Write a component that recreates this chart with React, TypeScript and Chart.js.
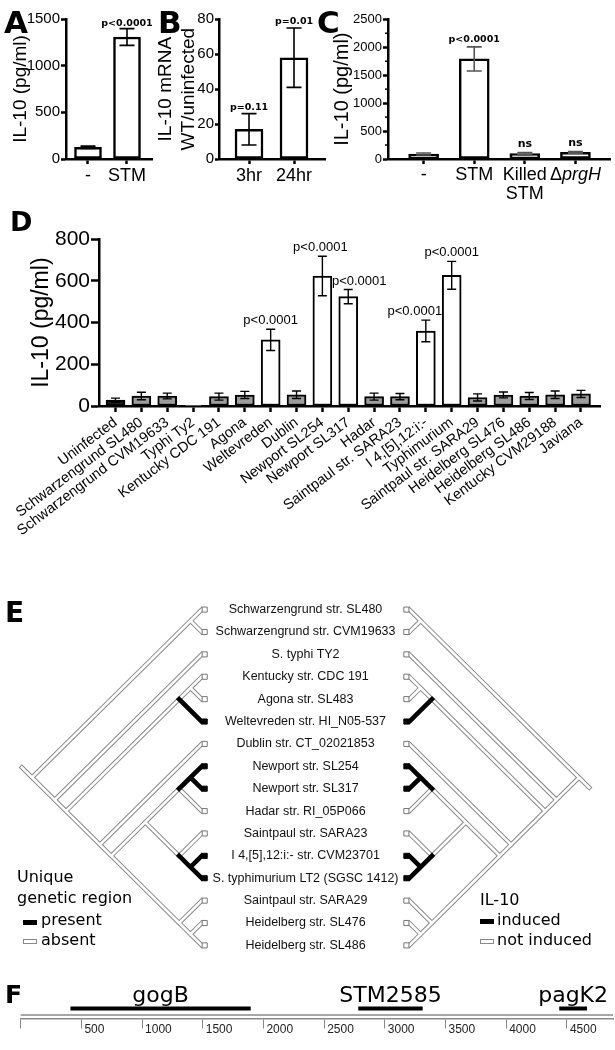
import React, { useEffect, useRef } from 'react';
import { Chart, registerables } from 'chart.js';

Chart.register(...registerables);

const ARIAL = '"Liberation Sans", Arial, Helvetica, sans-serif';
const VERDANA = '"DejaVu Sans", Verdana, sans-serif';

// ---------------- Panel A ----------------
const A_CATEGORIES = ['-', 'STM'];
const A_VALUES = [125, 1307];
const A_ERRORS = [13, 90];
const A_Y_TICKS = [0, 500, 1000, 1500];
const A_NOTES = ['', 'p<0.0001'];

// ---------------- Panel B ----------------
const B_CATEGORIES = ['3hr', '24hr'];
const B_VALUES = [17, 58];
const B_ERRORS = [9, 17];
const B_Y_TICKS = [0, 20, 40, 60, 80];
const B_NOTES = ['p=0.11', 'p=0.01'];

// ---------------- Panel C ----------------
const C_CATEGORIES = ['-', 'STM', 'Killed\nSTM', 'ΔprgH'];
const C_VALUES = [89, 1791, 95, 120];
const C_ERRORS = [18, 215, 22, 15];
const C_Y_TICKS = [0, 500, 1000, 1500, 2000, 2500];
const C_Y_MINOR_TICKS = [250, 750, 1250, 1750, 2250];
const C_NOTES = ['', 'p<0.0001', 'ns', 'ns'];

// ---------------- Panel D ----------------
const D_CATEGORIES = [
  'Uninfected', 'Schwarzengrund SL480', 'Schwarzengrund CVM19633', 'Typhi Ty2',
  'Kentucky CDC 191', 'Agona', 'Weltevreden', 'Dublin', 'Newport SL254',
  'Newport SL317', 'Hadar', 'Saintpaul str. SARA23', 'I 4,[5],12:i:-',
  'Typhimurium', 'Saintpaul str. SARA29', 'Heidelberg SL476', 'Heidelberg SL486',
  'Kentucky CVM29188', 'Javiana',
];
const D_VALUES = [28, 48, 48, 3, 45, 53, 317, 54, 624, 525, 45, 45, 360, 627, 41, 53, 48, 54, 58];
const D_ERRORS = [10, 18, 14, 0, 17, 17, 51, 18, 95, 34, 17, 15, 52, 67, 17, 14, 17, 18, 17];
const D_Y_TICKS = [0, 200, 400, 600, 800];
const D_NOTES = ['', '', '', '', '', '', 'p<0.0001', '', 'p<0.0001', 'p<0.0001', '', '', 'p<0.0001', 'p<0.0001', '', '', '', '', ''];

// ---------------- Panel E ----------------
const E_STRAINS = [
  'Schwarzengrund str. SL480', 'Schwarzengrund str. CVM19633', 'S. typhi TY2',
  'Kentucky str. CDC 191', 'Agona str. SL483', 'Weltevreden str. HI_N05-537',
  'Dublin str. CT_02021853', 'Newport str. SL254', 'Newport str. SL317',
  'Hadar str. RI_05P066', 'Saintpaul str. SARA23', 'I 4,[5],12:i:- str. CVM23701',
  'S. typhimurium LT2 (SGSC 1412)', 'Saintpaul str. SARA29', 'Heidelberg str. SL476',
  'Heidelberg str. SL486',
];
const E_TREE: any = [[0, 1], [2, [[[3, 4], 5], [6, [[[[7, 8], 9], [10, [11, 12]]], [13, [14, 15]]]]]]];
const E_GENETIC_REGION_PRESENT = [5, 7, 8, 11, 12];
const E_IL10_INDUCED = [5, 7, 8, 11, 12];

// ---------------- Panel F ----------------
const F_GENES = ['gogB', 'STM2585', 'pagK2'];
const F_GENE_START = [410, 2781, 4437];
const F_GENE_END = [1895, 3312, 4666];
const F_TICKS = [0, 500, 1000, 1500, 2000, 2500, 3000, 3500, 4000, 4500];
const F_MAX = 4880;

// ---------------- helpers ----------------
type Box = { left: number; top: number; width: number; height: number };
type TextItem = { text: string; x: number; y: number; font: string; align?: CanvasTextAlign; baseline?: CanvasTextBaseline; color?: string };

function textPlugin(items: TextItem[]) {
  return {
    id: 'staticText',
    afterDraw(chart: any) {
      const ctx = chart.ctx;
      ctx.save();
      items.forEach((t) => {
        ctx.font = t.font;
        ctx.fillStyle = t.color || '#000';
        ctx.textAlign = t.align || 'left';
        ctx.textBaseline = t.baseline || 'alphabetic';
        ctx.fillText(t.text, t.x, t.y);
      });
      ctx.restore();
    },
  };
}

function errorBarsPlugin(values: number[], errors: number[], color: string, width: number, cap: number) {
  return {
    id: 'errorBars',
    afterDatasetsDraw(chart: any) {
      const { ctx, scales } = chart;
      ctx.save();
      ctx.strokeStyle = color;
      ctx.lineWidth = width;
      values.forEach((v, i) => {
        const e = errors[i];
        if (!e) return;
        const px = scales.x.getPixelForValue(i);
        const top = scales.y.getPixelForValue(v + e);
        const bot = scales.y.getPixelForValue(Math.max(0, v - e));
        ctx.beginPath();
        ctx.moveTo(px, top); ctx.lineTo(px, bot);
        ctx.moveTo(px - cap / 2, top); ctx.lineTo(px + cap / 2, top);
        ctx.moveTo(px - cap / 2, bot); ctx.lineTo(px + cap / 2, bot);
        ctx.stroke();
      });
      ctx.restore();
    },
  };
}

function notesPlugin(values: number[], errors: number[], notes: string[], font: (t: string) => string, gap: number, shift: Record<number, number> = {}) {
  return {
    id: 'barNotes',
    afterDatasetsDraw(chart: any) {
      const { ctx, scales } = chart;
      ctx.save();
      ctx.fillStyle = '#000';
      ctx.textAlign = 'center';
      ctx.textBaseline = 'alphabetic';
      notes.forEach((t, i) => {
        if (!t) return;
        ctx.font = font(t);
        const px = scales.x.getPixelForValue(i) + (shift[i] || 0);
        const py = scales.y.getPixelForValue(values[i] + (errors[i] || 0)) - gap;
        ctx.fillText(t, px, py);
      });
      ctx.restore();
    },
  };
}

interface BarSpec {
  categories: string[]; values: number[]; errors: number[]; notes: string[]; colors: string[];
  yTicks: number[]; yMax: number; xMin: number; xMax: number;
  barThickness: number; barBorder: number; yWidth: number; xHeight: number;
  padding: { top: number; right: number };
  yTickFont: number; yTickLength: number;
  yTitle: string | string[]; yTitleFont: number; yTitlePad: number;
  xFont: number; xLineHeight: number; xPadding: number; xTickLength: number; rotation: number;
  errColor: string; errWidth: number; errCap: number;
  noteFont: (t: string) => string; noteGap: number; noteShift?: Record<number, number>;
  axisWidth: number; texts: TextItem[]; extra?: any[];
  labelFormatter?: (s: string) => any;
}

function barConfig(s: BarSpec): any {
  return {
    type: 'bar',
    data: {
      datasets: [{
        data: s.values.map((v, i) => ({ x: i, y: v })),
        backgroundColor: s.colors,
        borderColor: '#000',
        borderWidth: s.barBorder,
        borderSkipped: false,
        barThickness: s.barThickness,
      }],
    },
    options: {
      responsive: false,
      animation: false,
      events: [],
      layout: { padding: { left: 0, bottom: 0, top: s.padding.top, right: s.padding.right } },
      plugins: { legend: { display: false }, tooltip: { enabled: false } },
      scales: {
        x: {
          type: 'linear', min: s.xMin, max: s.xMax, offset: false,
          afterBuildTicks: (sc: any) => { sc.ticks = s.categories.map((_, i) => ({ value: i })); },
          afterFit: (sc: any) => { sc.height = s.xHeight; },
          ticks: {
            autoSkip: false, maxRotation: s.rotation, minRotation: s.rotation, padding: s.xPadding,
            color: '#000', font: { family: ARIAL, size: s.xFont, lineHeight: s.xLineHeight },
            callback: (v: number) => {
              const lab = s.categories[Math.round(v)] ?? '';
              return s.labelFormatter ? s.labelFormatter(lab) : lab;
            },
          },
          grid: { offset: false, drawOnChartArea: false, drawTicks: true, tickLength: s.xTickLength, tickWidth: s.axisWidth, tickColor: '#000' },
          border: { display: true, color: '#000', width: s.axisWidth },
        },
        y: {
          type: 'linear', min: 0, max: s.yMax,
          afterBuildTicks: (sc: any) => { sc.ticks = s.yTicks.map((v) => ({ value: v })); },
          afterFit: (sc: any) => { sc.width = s.yWidth; },
          ticks: { padding: 1, color: '#000', font: { family: ARIAL, size: s.yTickFont }, callback: (v: number) => String(v) },
          grid: { drawOnChartArea: false, drawTicks: true, tickLength: s.yTickLength, tickWidth: s.axisWidth, tickColor: '#000' },
          border: { display: true, color: '#000', width: s.axisWidth },
          title: {
            display: true, text: s.yTitle, color: '#000',
            font: { family: ARIAL, size: s.yTitleFont, lineHeight: 1.2 },
            padding: { top: s.yTitlePad, bottom: 0 },
          },
        },
      },
    },
    plugins: [
      errorBarsPlugin(s.values, s.errors, s.errColor, s.errWidth, s.errCap),
      notesPlugin(s.values, s.errors, s.notes, s.noteFont, s.noteGap, s.noteShift),
      textPlugin(s.texts),
      ...(s.extra || []),
    ],
  };
}

const LETTER = (size: number) => `bold ${size}px ${VERDANA}`;
const smallBold = (t: string) => (t === 'ns' ? `bold 11px ${VERDANA}` : `bold 9.5px ${VERDANA}`);

// ---------------- panel configs ----------------
const A_BOX: Box = { left: 0, top: 0, width: 160, height: 190 };
function makeA() {
  return barConfig({
    categories: A_CATEGORIES, values: A_VALUES, errors: A_ERRORS, notes: A_NOTES,
    colors: A_VALUES.map(() => '#fff'),
    yTicks: A_Y_TICKS, yMax: 1500, xMin: -0.564, xMax: 1.641,
    barThickness: 27, barBorder: 2.5, yWidth: 66, xHeight: 31,
    padding: { top: 19, right: 8 },
    yTickFont: 15, yTickLength: 5, yTitle: 'IL-10 (pg/ml)', yTitleFont: 19, yTitlePad: 9.6,
    xFont: 18, xLineHeight: 1.2, xPadding: 1, xTickLength: 5, rotation: 0,
    errColor: '#000', errWidth: 1.6, errCap: 15,
    noteFont: smallBold, noteGap: 3, axisWidth: 2.5,
    texts: [{ text: 'A', x: 4, y: 33, font: LETTER(31) }],
  });
}

const B_BOX: Box = { left: 150, top: 0, width: 180, height: 190 };
function makeB() {
  return barConfig({
    categories: B_CATEGORIES, values: B_VALUES, errors: B_ERRORS, notes: B_NOTES,
    colors: B_VALUES.map(() => '#fff'),
    yTicks: B_Y_TICKS, yMax: 80, xMin: -0.667, xMax: 1.689,
    barThickness: 28, barBorder: 2.5, yWidth: 69, xHeight: 31,
    padding: { top: 19.3, right: 5 },
    yTickFont: 15, yTickLength: 4, yTitle: ['IL-10 mRNA', 'WT/uninfected'], yTitleFont: 19, yTitlePad: 4.4,
    xFont: 18, xLineHeight: 1.2, xPadding: 1, xTickLength: 5, rotation: 0,
    errColor: '#000', errWidth: 1.6, errCap: 15,
    noteFont: smallBold, noteGap: 4, axisWidth: 2.5,
    texts: [{ text: 'B', x: 8, y: 33, font: LETTER(31) }],
  });
}

const C_BOX: Box = { left: 310, top: 0, width: 305, height: 205 };
function makeC() {
  const cExtra = {
    id: 'cExtra',
    afterDraw(chart: any) {
      const { ctx, chartArea, scales } = chart;
      ctx.save();
      ctx.strokeStyle = '#000';
      ctx.lineWidth = 1.5;
      C_Y_MINOR_TICKS.forEach((v) => {
        const py = scales.y.getPixelForValue(v);
        ctx.beginPath(); ctx.moveTo(chartArea.left - 3, py); ctx.lineTo(chartArea.left, py); ctx.stroke();
      });
      const label = C_CATEGORIES[3];
      const idx = 3;
      const px = scales.x.getPixelForValue(idx);
      const py = scales.x.top + 5 + 2 + (18 * 1.05) / 2;
      const reg = `18px ${ARIAL}`;
      const ita = `italic 18px ${ARIAL}`;
      ctx.font = reg; const w1 = ctx.measureText(label[0]).width;
      ctx.font = ita; const w2 = ctx.measureText(label.slice(1)).width;
      const sx = px - (w1 + w2) / 2;
      ctx.fillStyle = '#000'; ctx.textBaseline = 'middle'; ctx.textAlign = 'left';
      ctx.font = reg; ctx.fillText(label[0], sx, py);
      ctx.font = ita; ctx.fillText(label.slice(1), sx + w1, py);
      ctx.restore();
    },
  };
  return barConfig({
    categories: C_CATEGORIES, values: C_VALUES, errors: C_ERRORS, notes: C_NOTES,
    colors: C_VALUES.map(() => '#fff'),
    yTicks: C_Y_TICKS, yMax: 2500, xMin: -0.704, xMax: 3.683,
    barThickness: 30, barBorder: 2.5, yWidth: 78, xHeight: 46,
    padding: { top: 19.3, right: 5 },
    yTickFont: 13, yTickLength: 5, yTitle: 'IL-10 (pg/ml)', yTitleFont: 20, yTitlePad: 20,
    xFont: 18, xLineHeight: 1.05, xPadding: 2, xTickLength: 5, rotation: 0,
    errColor: '#555', errWidth: 1.6, errCap: 15,
    noteFont: smallBold, noteGap: 5, axisWidth: 2.5,
    texts: [{ text: 'C', x: 7, y: 33, font: LETTER(31) }],
    labelFormatter: (lab: string) => (lab.startsWith('Δ') ? '' : lab.includes('\n') ? lab.split('\n') : lab),
    extra: [cExtra],
  });
}

const D_BOX: Box = { left: 0, top: 195, width: 615, height: 350 };
function makeD() {
  const colors = D_CATEGORIES.map((c, i) => (i === 0 ? '#1a1a1a' : D_NOTES[i] ? '#fff' : '#9d9d9d'));
  return barConfig({
    categories: D_CATEGORIES, values: D_VALUES, errors: D_ERRORS, notes: D_NOTES, colors,
    yTicks: D_Y_TICKS, yMax: 800, xMin: -0.638, xMax: 18.735,
    barThickness: 19, barBorder: 2, yWidth: 99, xHeight: 350 - 211,
    padding: { top: 44.3, right: 15 },
    yTickFont: 21, yTickLength: 8, yTitle: 'IL-10 (pg/ml)', yTitleFont: 23, yTitlePad: 28,
    xFont: 14.5, xLineHeight: 1.2, xPadding: 2, xTickLength: 6, rotation: 37,
    errColor: '#000', errWidth: 1.4, errCap: 9,
    noteFont: () => `13px ${ARIAL}`, noteGap: 5, noteShift: { 8: -2, 9: 11, 12: -11 },
    axisWidth: 2.5,
    texts: [{ text: 'D', x: 10, y: 36, font: LETTER(27) }],
  });
}

// ---------------- Panel E (trees) ----------------
const E_BOX: Box = { left: 0, top: 590, width: 615, height: 375 };
const E_UNIT = 23;           // px per leaf step
const E_LEFT_TIP_PX = 200;   // canvas x of left leaf tips
const E_RIGHT_TIP_PX = 411;  // canvas x of right leaf tips
const E_FIRST_LEAF_PX = 15;  // canvas y of first leaf

type TNode = { lo: number; hi: number; kids: TNode[] };
function buildNode(t: any): TNode {
  if (typeof t === 'number') return { lo: t, hi: t, kids: [] };
  const kids = t.map(buildNode);
  return { lo: Math.min(...kids.map((k: TNode) => k.lo)), hi: Math.max(...kids.map((k: TNode) => k.hi)), kids };
}
function leafList(n: TNode): number[] {
  return n.kids.length ? n.kids.flatMap(leafList) : [n.lo];
}
const GAP = () => ({ x: NaN, y: NaN });

function makeE() {
  const right = (E_RIGHT_TIP_PX - E_LEFT_TIP_PX) / E_UNIT;
  const root = buildNode(E_TREE);
  const white: any[] = [];
  const black: any[] = [];
  const sqWhite: any[] = [];
  const sqBlack: any[] = [];
  const sqOff = 3 / E_UNIT;
  const sides = [
    { tip: 0, dir: -1, marked: E_GENETIC_REGION_PRESENT },
    { tip: right, dir: 1, marked: E_IL10_INDUCED },
  ];
  sides.forEach(({ tip, dir, marked }) => {
    const pos = (n: TNode) => ({ x: tip + (dir * (n.hi - n.lo)) / 2, y: (n.hi + n.lo) / 2 });
    const walk = (n: TNode) => {
      const a = pos(n);
      n.kids.forEach((k) => {
        const b = pos(k);
        const on = leafList(k).every((l) => marked.includes(l));
        (on ? black : white).push(a, b, GAP());
        walk(k);
      });
    };
    walk(root);
    const r = pos(root);
    white.push(r, { x: r.x + dir * 0.45, y: r.y + dir * 0.45 }, GAP());
    E_STRAINS.forEach((_, i) => {
      (marked.includes(i) ? sqBlack : sqWhite).push({ x: tip - dir * sqOff, y: i });
    });
  });

  const lineDs = (data: any[], color: string, width: number, order: number) => ({
    data, showLine: true, borderColor: color, borderWidth: width, pointRadius: 0,
    borderCapStyle: 'square', borderJoinStyle: 'miter', tension: 0, spanGaps: false, order,
  });
  const sqDs = (data: any[], fill: string, stroke: string) => ({
    data, showLine: false, pointStyle: 'rect', pointRadius: 3.6, pointBorderWidth: 1,
    pointBackgroundColor: fill, pointBorderColor: stroke, order: 0,
  });

  const legend: TextItem[] = [
    { text: 'E', x: 5, y: 32, font: LETTER(28) },
    { text: 'Unique', x: 17, y: 288, font: `16px ${VERDANA}`, baseline: 'middle' },
    { text: 'genetic region', x: 17, y: 309, font: `16px ${VERDANA}`, baseline: 'middle' },
    { text: 'present', x: 41, y: 331, font: `16px ${VERDANA}`, baseline: 'middle' },
    { text: 'absent', x: 41, y: 351, font: `16px ${VERDANA}`, baseline: 'middle' },
    { text: 'IL-10', x: 480, y: 311, font: `16px ${VERDANA}`, baseline: 'middle' },
    { text: 'induced', x: 497, y: 331, font: `16px ${VERDANA}`, baseline: 'middle' },
    { text: 'not induced', x: 497, y: 351, font: `16px ${VERDANA}`, baseline: 'middle' },
  ];

  const ePlugin = {
    id: 'eLabels',
    afterDatasetsDraw(chart: any) {
      const { ctx, scales } = chart;
      ctx.save();
      ctx.fillStyle = '#111';
      ctx.font = `12.5px ${ARIAL}`;
      ctx.textAlign = 'center';
      ctx.textBaseline = 'middle';
      const cx = scales.x.getPixelForValue(right / 2);
      E_STRAINS.forEach((s, i) => ctx.fillText(s, cx, scales.y.getPixelForValue(i)));
      const sw = (x: number, y: number, filled: boolean) => {
        if (filled) { ctx.fillStyle = '#000'; ctx.fillRect(x, y, 14, 5); }
        else { ctx.fillStyle = '#fff'; ctx.fillRect(x, y, 14, 5); ctx.strokeStyle = '#888'; ctx.lineWidth = 1; ctx.strokeRect(x + 0.5, y + 0.5, 13, 4); }
      };
      sw(23, 330, true); sw(23, 349, false); sw(480, 329, true); sw(480, 349, false);
      ctx.restore();
    },
  };

  return {
    type: 'scatter',
    data: {
      datasets: [
        sqDs(sqBlack, '#000', '#000'),
        sqDs(sqWhite, '#fff', '#777'),
        lineDs(black, '#000', 4.6, 1),
        lineDs(white, '#fff', 2.6, 2),
        lineDs(white, '#8a8a8a', 4.6, 3),
      ],
    },
    options: {
      responsive: false, animation: false, events: [],
      layout: { padding: 0 },
      plugins: { legend: { display: false }, tooltip: { enabled: false } },
      scales: {
        x: { type: 'linear', display: false, min: -E_LEFT_TIP_PX / E_UNIT, max: (E_BOX.width - E_LEFT_TIP_PX) / E_UNIT },
        y: { type: 'linear', display: false, reverse: true, min: -E_FIRST_LEAF_PX / E_UNIT, max: (E_BOX.height - E_FIRST_LEAF_PX) / E_UNIT },
      },
    },
    plugins: [ePlugin, textPlugin(legend)],
  };
}

// ---------------- Panel F ----------------
const F_BOX: Box = { left: 0, top: 980, width: 615, height: 70 };
const F_GENE_LEVEL = 2.6;
function makeF() {
  const pts: any[] = [];
  F_GENES.forEach((_, i) => { pts.push({ x: F_GENE_START[i], y: F_GENE_LEVEL }, { x: F_GENE_END[i], y: F_GENE_LEVEL }, GAP()); });
  const fPlugin = {
    id: 'fExtra',
    afterDraw(chart: any) {
      const { ctx, chartArea, scales } = chart;
      ctx.save();
      ctx.strokeStyle = '#8a8a8a';
      ctx.lineWidth = 1.5;
      ctx.beginPath();
      ctx.moveTo(chartArea.left, chartArea.bottom - 3.5);
      ctx.lineTo(chartArea.right, chartArea.bottom - 3.5);
      ctx.stroke();
      ctx.fillStyle = '#000';
      ctx.font = `22px ${VERDANA}`;
      ctx.textAlign = 'center';
      ctx.textBaseline = 'alphabetic';
      F_GENES.forEach((g, i) => {
        const cx = scales.x.getPixelForValue((F_GENE_START[i] + F_GENE_END[i]) / 2);
        ctx.fillText(g, cx, scales.y.getPixelForValue(F_GENE_LEVEL) - 6.5);
      });
      ctx.restore();
    },
  };
  return {
    type: 'scatter',
    data: { datasets: [{ data: pts, showLine: true, borderColor: '#000', borderWidth: 4, pointRadius: 0, borderCapStyle: 'butt', spanGaps: false }] },
    options: {
      responsive: false, animation: false, events: [],
      layout: { padding: { left: 20.7, right: 2, top: 0, bottom: 0 } },
      plugins: { legend: { display: false }, tooltip: { enabled: false } },
      scales: {
        x: {
          type: 'linear', min: 0, max: F_MAX,
          afterBuildTicks: (sc: any) => { sc.ticks = F_TICKS.map((v) => ({ value: v })); },
          afterFit: (sc: any) => { sc.height = 31.5; },
          ticks: {
            align: 'start', labelOffset: 3, padding: -6, autoSkip: false, maxRotation: 0,
            color: '#222', font: { family: ARIAL, size: 12 },
            callback: (v: number) => (v === 0 ? '' : String(v)),
          },
          grid: { drawOnChartArea: false, drawTicks: true, tickLength: 10, tickColor: '#888', tickWidth: 1 },
          border: { display: true, color: '#8a8a8a', width: 1.5 },
        },
        y: { type: 'linear', display: false, min: 0, max: 10 },
      },
    },
    plugins: [fPlugin, textPlugin([{ text: 'F', x: 5, y: 23, font: LETTER(25) }])],
  };
}

// ---------------- React ----------------
function ChartCanvas({ box, make }: { box: Box; make: () => any }) {
  const ref = useRef<HTMLCanvasElement>(null);
  useEffect(() => {
    const chart = new Chart(ref.current as HTMLCanvasElement, make());
    return () => chart.destroy();
  }, []);
  return (
    <canvas
      ref={ref}
      width={box.width}
      height={box.height}
      style={{ position: 'absolute', left: box.left, top: box.top, width: box.width, height: box.height }}
    />
  );
}

const PANELS = [
  { key: 'E', box: E_BOX, make: makeE },
  { key: 'F', box: F_BOX, make: makeF },
  { key: 'D', box: D_BOX, make: makeD },
  { key: 'A', box: A_BOX, make: makeA },
  { key: 'B', box: B_BOX, make: makeB },
  { key: 'C', box: C_BOX, make: makeC },
];

export default function App() {
  return (
    <div style={{ position: 'absolute', left: 0, top: 0, width: 615, height: 1050, background: '#fff', overflow: 'hidden' }}>
      {PANELS.map((p) => (
        <ChartCanvas key={p.key} box={p.box} make={p.make} />
      ))}
    </div>
  );
}
